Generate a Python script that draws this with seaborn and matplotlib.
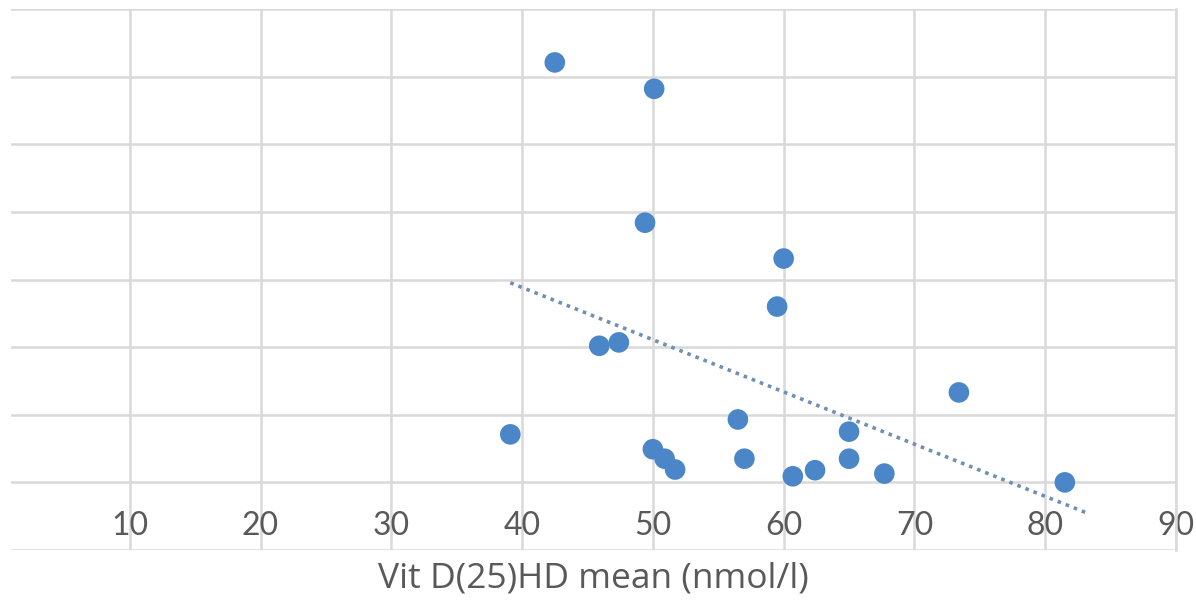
import numpy as np
import pandas as pd
import matplotlib
matplotlib.use("Agg")
import matplotlib.pyplot as plt
import seaborn as sns

# Data (y axis units = one gridline step, labels cropped in the source)
vit_d = [42.5, 50.1, 49.4, 60.0, 59.5, 45.9, 47.4, 39.1, 56.5, 50.0,
         50.9, 51.7, 57.0, 60.7, 62.4, 65.0, 65.0, 67.7, 73.4, 81.5]
outcome = [6.21, 5.82, 3.84, 3.31, 2.60, 2.02, 2.07, 0.71, 0.93, 0.49,
           0.35, 0.19, 0.35, 0.09, 0.18, 0.35, 0.75, 0.13, 1.33, 0.00]
x_ticks = [10, 20, 30, 40, 50, 60, 70, 80, 90]
y_grid = [-1, 0, 1, 2, 3, 4, 5, 6, 7]
x_label = "Vit D(25)HD mean (nmol/l)"
forecast_forward = 1.7

df = pd.DataFrame({"vitd": vit_d, "y": outcome})

sns.set_theme(style="white")
plt.rcParams["font.family"] = ["Lato", "DejaVu Sans"]

fig = plt.figure(figsize=(11.96, 6.05), dpi=100)
ax = fig.add_axes([11 / 1196, 1 - 550 / 605, (1176 - 11) / 1196, (550 - 9) / 605])

grid_c = "#d9d9d9"
ax.set_xlim(0.92, 90)
ax.set_ylim(-1, 7)
ax.set_xticks(x_ticks)
ax.set_yticks(y_grid)
ax.grid(True, color=grid_c, linewidth=1.8)
ax.set_axisbelow(True)
for s in ax.spines.values():
    s.set_visible(False)
ax.spines["right"].set_visible(True)
ax.spines["right"].set_color(grid_c)
ax.spines["right"].set_linewidth(1.8)

# trendline (linear least squares, Excel-style with forward forecast)
slope, intercept = np.polyfit(df["vitd"], df["y"], 1)
tx = np.array([df["vitd"].min(), df["vitd"].max() + forecast_forward])
trend = pd.DataFrame({"x": tx, "y": slope * tx + intercept})
sns.lineplot(data=trend, x="x", y="y", ax=ax, color="#6f8fb5",
             linestyle=(0, (1, 1.4)), linewidth=2.6, zorder=2)

sns.scatterplot(data=df, x="vitd", y="y", ax=ax, s=220, color="#4a86c8",
                edgecolor="none", zorder=3)

ax.tick_params(axis="x", length=0, pad=-28, labelsize=23, labelcolor="#595959")
ax.tick_params(axis="y", length=0, labelleft=False)
ax.set_ylabel("")
ax.set_xlabel(x_label, fontsize=25.5, color="#595959", labelpad=8,
              family=["Open Sans", "DejaVu Sans"])

fig.savefig("out.png", dpi=100, facecolor="white")
